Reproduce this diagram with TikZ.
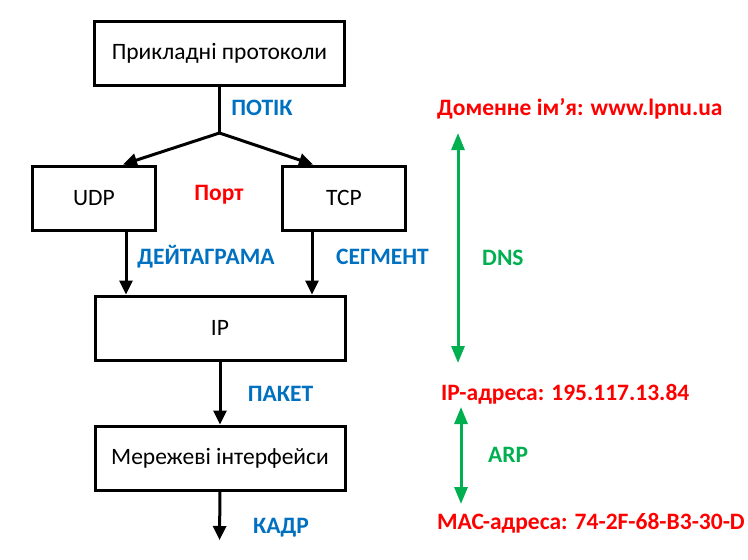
\documentclass[tikz,border=0pt]{standalone}
\usepackage{fontspec}
\setmainfont{Carlito}
\usetikzlibrary{arrows.meta,calc}
\definecolor{lblue}{RGB}{0,112,192}
\definecolor{lred}{RGB}{255,0,0}
\definecolor{lgreen}{RGB}{0,176,80}
\begin{document}
\begin{tikzpicture}[x=1pt,y=-1pt,
  every node/.style={font=\fontsize{23.5}{28}\selectfont},
  box/.style={draw,line width=3pt,minimum width=250pt,minimum height=64pt,inner sep=0pt},
  sbox/.style={draw,line width=3pt,minimum width=123pt,minimum height=64pt,inner sep=0pt},
  lab/.style={inner sep=0pt,font=\fontsize{23.5}{28}\selectfont\bfseries},
  arr/.style={line width=3pt,-{Triangle[length=14pt,width=13pt]}},
  garr/.style={line width=3pt,lgreen,{Triangle[length=17pt,width=13pt]}-{Triangle[length=17pt,width=13pt]}}]
\useasboundingbox (0,0) rectangle (748,560);
% boxes
\node[box] (app) at (219.5,53.5) {Прикладні протоколи};
\node[sbox] (udp) at (94,198) {UDP};
\node[sbox] (tcp) at (344,198) {TCP};
\node[box] (ip) at (220,328) {IP};
\node[box] (net) at (220,458) {Мережеві інтерфейси};
% helper coordinates
\coordinate (j) at (219.5,133);
\coordinate (xu) at (123,0);
\coordinate (xt) at (313,0);
\coordinate (xd) at (126,0);
\coordinate (xs) at (312,0);
\coordinate (kend) at (219.5,540);
% connectors
\draw[line width=3pt] (app.south) -- (j);
\draw[arr] (j) -- (udp.north -| xu);
\draw[arr] (j) -- (tcp.north -| xt);
\draw[arr] (udp.south -| xd) -- (ip.north -| xd);
\draw[arr] (tcp.south -| xs) -- (ip.north -| xs);
\draw[arr] (ip.south) -- (net.north);
\draw[arr] (net.south) -- (kend);
% labels
\node[lab,lblue] (potik) at (262,108) {ПОТІК};
\node[lab,lred] (port) at (219,195) {Порт};
\node[lab,lblue] (dg) at (206,257) {ДЕЙТАГРАМА};
\node[lab,lblue] (seg) at (382.5,257) {СЕГМЕНТ};
\node[lab,lblue] (pak) at (280.5,394) {ПАКЕТ};
\node[lab,lblue] (kadr) at (281,528) {КАДР};
% right side
\node[lab,lred,anchor=west] (dom) at (437,109) {Доменне ім’я: www.lpnu.ua};
\node[lab,lred,anchor=west] (ipa) at (441,394) {IP-адреса: 195.117.13.84};
\node[lab,lred,anchor=west] (mac) at (437,523) {MAC-адреса: 74-2F-68-B3-30-D};
\coordinate (d1) at (458,133);
\coordinate (d2) at (458,363);
\coordinate (a1) at (461,407);
\coordinate (a2) at (461,504);
\draw[garr] (d1) -- (d2);
\draw[garr] (a1) -- (a2);
\node[lab,lgreen,anchor=west] (dns) at (482,258) {DNS};
\node[lab,lgreen,anchor=west] (arp) at (488,455) {ARP};
\end{tikzpicture}
\end{document}
